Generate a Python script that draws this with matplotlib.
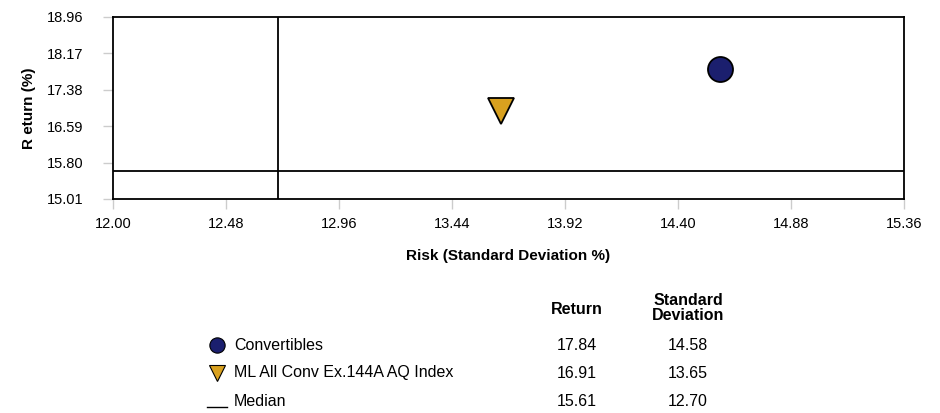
import matplotlib.pyplot as plt
from matplotlib.lines import Line2D

plt.rcParams['font.family'] = ['Liberation Sans', 'DejaVu Sans']

# Data
names = ["Convertibles", "ML All Conv Ex.144A AQ Index"]
returns = [17.84, 16.91]
std_devs = [14.58, 13.65]
median_return = 15.61
median_std = 12.70
colors = ["#1b1f6e", "#d9a11f"]
markers = ["o", "v"]

x_ticks = [12.00, 12.48, 12.96, 13.44, 13.92, 14.40, 14.88, 15.36]
y_ticks = [15.01, 15.80, 16.59, 17.38, 18.17, 18.96]

W, H = 940, 413
fig = plt.figure(figsize=(W / 100, H / 100), dpi=100)
ax = fig.add_axes([113 / W, 1 - 199 / H, (904 - 113) / W, (199 - 17) / H])

for name, r, s, c, m in zip(names, returns, std_devs, colors, markers):
    ax.plot(s, r, marker=m, color=c, markersize=18 if m == "o" else 19,
            markeredgecolor="black", markeredgewidth=1.3, linestyle="none", zorder=3)

ax.axhline(median_return, color="black", linewidth=1.3)
ax.axvline(median_std, color="black", linewidth=1.3)

ax.set_xlim(x_ticks[0], x_ticks[-1])
ax.set_ylim(y_ticks[0], y_ticks[-1])
ax.set_xticks(x_ticks)
ax.set_xticklabels([f"{v:.2f}" for v in x_ticks])
ax.set_yticks(y_ticks)
ax.set_yticklabels([f"{v:.2f}" for v in y_ticks])
ax.tick_params(axis="both", length=7, width=1, color="#cccccc", labelsize=10.5)
ax.tick_params(axis="x", pad=6)
ax.tick_params(axis="y", pad=14)
for sp in ax.spines.values():
    sp.set_linewidth(1.3)

ax.set_xlabel("Risk (Standard Deviation %)", fontsize=11, fontweight="bold", labelpad=13)
ax.set_ylabel("R eturn (%)", fontsize=11, fontweight="bold", labelpad=8)

# Legend table under the chart
def fy(py):
    return 1 - py / H

col_ret = 577 / W
col_sd = 688 / W
txt_x = 234 / W
mark_x = 217 / W

fig.text(col_ret, fy(309), "Return", ha="center", va="center", fontsize=11.5, fontweight="bold")
fig.text(col_sd, fy(308), "Standard\nDeviation", ha="center", va="center", fontsize=11.5,
         fontweight="bold", linespacing=0.95)

row_y = [345, 373, 401]
for i in range(len(names)):
    fig.add_artist(Line2D([mark_x], [fy(row_y[i])], marker=markers[i], color=colors[i],
                          markersize=11, markeredgecolor="black", markeredgewidth=0.8,
                          linestyle="none"))
    fig.text(txt_x, fy(row_y[i]), names[i], ha="left", va="center", fontsize=11.5)
    fig.text(col_ret, fy(row_y[i]), f"{returns[i]:.2f}", ha="center", va="center", fontsize=11.5)
    fig.text(col_sd, fy(row_y[i]), f"{std_devs[i]:.2f}", ha="center", va="center", fontsize=11.5)

fig.add_artist(Line2D([207 / W, 227 / W], [fy(407), fy(407)], color="black", linewidth=1))
fig.text(txt_x, fy(row_y[2]), "Median", ha="left", va="center", fontsize=11.5)
fig.text(col_ret, fy(row_y[2]), f"{median_return:.2f}", ha="center", va="center", fontsize=11.5)
fig.text(col_sd, fy(row_y[2]), f"{median_std:.2f}", ha="center", va="center", fontsize=11.5)

fig.savefig("out.png", dpi=100)
